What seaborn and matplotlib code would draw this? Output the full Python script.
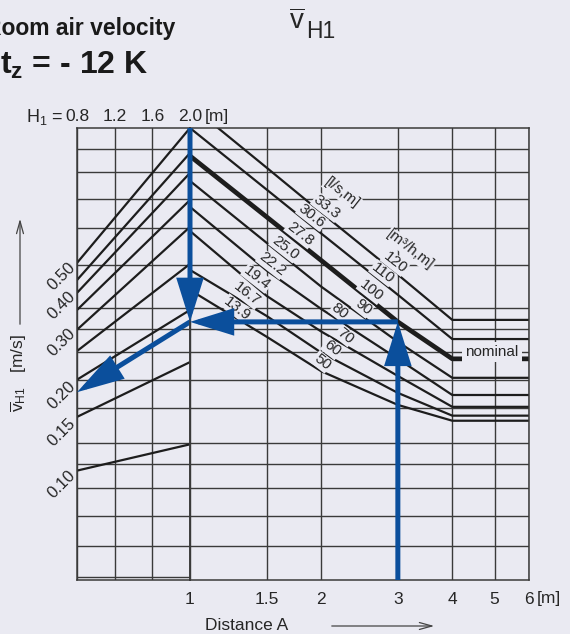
import numpy as np
import pandas as pd
import matplotlib
matplotlib.use("Agg")
import matplotlib.pyplot as plt
import seaborn as sns
from matplotlib.patches import FancyArrowPatch, ArrowStyle

# ---------------------------------------------------------------- data
H1_TICKS = [0.8, 1.2, 1.6, 2.0]                 # mounting height H1 [m]
A_TICKS = [1, 1.5, 2, 3, 4, 5, 6]               # distance A [m]
A_TICK_LABELS = ["1", "1.5", "2", "3", "4", "5", "6"]

V_LABELS = [0.10, 0.15, 0.20, 0.30, 0.40, 0.50]  # labelled velocities [m/s]
V_LABEL_TEXT = ["0.10", "0.15", "0.20", "0.30", "0.40", "0.50"]
V_GRID = [1.225, 1.026, 0.833, 0.666, 0.50, 0.359, 0.305, 0.255, 0.206,
          0.166, 0.126, 0.107, 0.089, 0.072, 0.057]
V_GRID_LEFT_EXTRA = [0.0449]

FLOW_LS = ["33.3", "30.6", "27.8", "25.0", "22.2", "19.4", "16.7", "13.9"]
FLOW_M3H = ["120", "110", "100", "90", "80", "70", "60", "50"]
NOMINAL = "100"

# velocity along each flow line at these distances
A_POINTS = [1, 1.5, 2, 3, 4, 6]
v_120 = [1.72, 1.06, 0.750, 0.464, 0.327, 0.327]
v_110 = [1.441, 0.895, 0.638, 0.397, 0.282, 0.282]
v_100 = [1.161, 0.7245, 0.518, 0.322, 0.242, 0.242]
v_90 = [0.957, 0.593, 0.423, 0.276, 0.209, 0.209]
v_80 = [0.783, 0.479, 0.356, 0.242, 0.183, 0.183]
v_70 = [0.650, 0.3935, 0.299, 0.212, 0.167, 0.167]
v_60 = [0.481, 0.337, 0.254, 0.186, 0.156, 0.156]
v_50 = [0.412, 0.287, 0.220, 0.1695, 0.150, 0.150]
FLOW_CURVES = [v_120, v_110, v_100, v_90, v_80, v_70, v_60, v_50]

# height correction guide lines: velocity at H1 = 0.8 m and at H1 = 2.0 m
GUIDE_V_08 = [0.508, 0.445, 0.403, 0.353, 0.303, 0.257, 0.206, 0.1545, 0.102]
GUIDE_V_20 = [1.441, 1.188, 1.018, 0.826, 0.671, 0.504, 0.353, 0.236, 0.125]

# worked example
A_EXAMPLE = 3.0
H1_EXAMPLE = 0.8
V_RESULT = 0.187

# ---------------------------------------------------------------- style
sns.set_theme(style="dark")
BG = "#EAEAF2"
INK = "#1d1d1d"
GRID = "#3a3a3a"
BLUE = "#0b4f9c"
TXT = "#262626"
plt.rcParams["font.family"] = ["Liberation Sans", "DejaVu Sans"]
plt.rcParams["mathtext.fontset"] = "custom"
plt.rcParams["mathtext.rm"] = "Liberation Sans"
plt.rcParams["mathtext.it"] = "Liberation Sans:italic"
plt.rcParams["mathtext.bf"] = "Liberation Sans:bold"
plt.rcParams["text.color"] = TXT

W, H = 570, 634
fx = lambda px: px / W
fy = lambda py: 1 - py / H

fig = plt.figure(figsize=(W / 100, H / 100), dpi=100, facecolor=BG)
ax_h = fig.add_axes([fx(77), fy(580), (190 - 77) / W, (580 - 128) / H], facecolor=BG)
ax_a = fig.add_axes([fx(190), fy(580), (529 - 190) / W, (580 - 128) / H],
                    facecolor=BG, sharey=ax_h)
ax_a.patch.set_visible(False)

ax_h.set_yscale("log")
ax_a.set_xscale("log")
ax_h.set_ylim(0.0438, 1.441)
ax_h.set_xlim(0.8, 2.0)
ax_a.set_xlim(1, 6)

# ticks and grid
ax_h.yaxis.remove_overlapping_locs = False
ax_h.set_yticks(V_GRID)
ax_h.set_yticklabels([""] * len(V_GRID))
ax_h.set_yticks(V_LABELS, minor=True)
ax_h.set_yticklabels(V_LABEL_TEXT, minor=True)
for lbl in ax_h.get_yticklabels(minor=True):
    lbl.set_rotation(45)
    lbl.set_rotation_mode("anchor")
    lbl.set_ha("right")
    lbl.set_va("center")
ax_h.tick_params(axis="y", which="both", length=0, pad=3, labelsize=12, colors=TXT)
ax_a.tick_params(axis="y", which="both", length=0, labelleft=False)

ax_h.xaxis.tick_top()
ax_h.set_xticks(H1_TICKS)
ax_h.set_xticklabels([f"{h:.1f}" for h in H1_TICKS])
ax_h.set_xticks([], minor=True)
ax_h.tick_params(axis="x", which="both", length=0, pad=3, labelsize=12.5, colors=TXT)

ax_a.set_xticks(A_TICKS)
ax_a.set_xticklabels(A_TICK_LABELS)
ax_a.set_xticks([], minor=True)
ax_a.tick_params(axis="x", which="both", length=0, pad=9, labelsize=12.5, colors=TXT)

for ax in (ax_h, ax_a):
    ax.set_axisbelow(True)
    ax.grid(True, which="major", color=GRID, lw=1.0)
    ax.grid(False, which="minor")
    for sp in ax.spines.values():
        sp.set_visible(True)
        sp.set_color(GRID)
        sp.set_linewidth(1.1)
for v in V_GRID_LEFT_EXTRA:
    ax_h.axhline(v, color=GRID, lw=1.0, zorder=0.6)

# ---------------------------------------------------------------- flow lines
rows = []
for name, curve in zip(FLOW_M3H, FLOW_CURVES):
    for a, v in zip(A_POINTS, curve):
        rows.append({"A": a, "v": v, "flow": name})
flow_df = pd.DataFrame(rows)
thin = flow_df[flow_df["flow"] != NOMINAL]
thick = flow_df[flow_df["flow"] == NOMINAL]
sns.lineplot(data=thin, x="A", y="v", units="flow", estimator=None, sort=False,
             color=INK, lw=1.6, ax=ax_a, legend=False, zorder=2)
sns.lineplot(data=thick, x="A", y="v", units="flow", estimator=None, sort=False,
             color=INK, lw=3.4, ax=ax_a, legend=False, zorder=2)

guide_rows = []
for i, (v0, v1) in enumerate(zip(GUIDE_V_08, GUIDE_V_20)):
    guide_rows.append({"H1": H1_TICKS[0], "v": v0, "g": i})
    guide_rows.append({"H1": H1_TICKS[-1], "v": v1, "g": i})
guide_df = pd.DataFrame(guide_rows)
sns.lineplot(data=guide_df, x="H1", y="v", units="g", estimator=None, sort=False,
             color=INK, lw=1.6, ax=ax_h, legend=False, zorder=2)
for ax in (ax_h, ax_a):
    ax.set_xlabel("")
    ax.set_ylabel("")


def v_on(curve, a):
    return 10 ** np.interp(np.log10(a), np.log10(A_POINTS), np.log10(curve))


label_box = dict(boxstyle="square,pad=0.05", fc=BG, ec="none")
LS_LABEL_A = [2.06, 1.905, 1.789, 1.652, 1.542, 1.425, 1.351, 1.282]
M3H_LABEL_A = [2.954, 2.773, 2.603, 2.495, 2.21, 2.27, 2.118, 2.01]
for curve, txt, a in zip(FLOW_CURVES, FLOW_LS, LS_LABEL_A):
    ax_a.annotate(txt, xy=(a, v_on(curve, a)), xytext=(0, 7), textcoords="offset points",
                  rotation=-38, ha="center", va="center", fontsize=11,
                  bbox=label_box, zorder=3)
for curve, txt, a in zip(FLOW_CURVES, FLOW_M3H, M3H_LABEL_A):
    ax_a.annotate(txt, xy=(a, v_on(curve, a)), xytext=(0, 7), textcoords="offset points",
                  rotation=-38, ha="center", va="center", fontsize=11,
                  bbox=label_box, zorder=3)
ax_a.annotate("[l/s,m]", xy=(2.234, v_on(v_120, 2.234)), xytext=(0, 26),
              textcoords="offset points", rotation=-38, ha="center", va="center",
              fontsize=11, bbox=label_box, zorder=3)
ax_a.annotate("[m³/h,m]", xy=(3.2, v_on(v_120, 3.2)), xytext=(0, 25),
              textcoords="offset points", rotation=-38, ha="center", va="center",
              fontsize=11, bbox=label_box, zorder=3)
ax_a.text(4.93, V_GRID[7], "nominal", ha="center", va="center", fontsize=11,
          bbox=dict(boxstyle="square,pad=0.2", fc=BG, ec="none"), zorder=3)

# ---------------------------------------------------------------- worked example
v_sel = v_on(v_100, A_EXAMPLE)
y_lo, y_hi = ax_h.get_ylim()


def blue_arrow(ax, tail, tip, head_length=2.4):
    style = ArrowStyle("-|>", head_length=head_length, head_width=0.75)
    arr = FancyArrowPatch(tail, tip, transform=ax.transData, arrowstyle=style,
                          mutation_scale=10, color=BLUE, lw=3.6, shrinkA=0, shrinkB=0,
                          joinstyle="miter", capstyle="butt", clip_on=False, zorder=5)
    ax.add_patch(arr)


blue_arrow(ax_a, (A_EXAMPLE, y_lo), (A_EXAMPLE, v_sel))
blue_arrow(ax_a, (A_EXAMPLE, v_sel), (A_TICKS[0], v_sel))
blue_arrow(ax_a, (A_TICKS[0], y_hi), (A_TICKS[0], v_sel))
blue_arrow(ax_h, (H1_TICKS[-1], v_sel), (H1_EXAMPLE, V_RESULT), head_length=2.6)

# ---------------------------------------------------------------- texts
fig.text(fx(175), fy(35), "Room air velocity", ha="right", va="baseline",
         fontsize=16.5, weight="bold", color="#1a1a1a")
fig.text(fx(148), fy(74), r"Δt$_{\mathbf{z}}$ = - 12 K", ha="right", va="baseline",
         fontsize=23, weight="bold", color="#1a1a1a")
fig.text(fx(289), fy(29), r"$\overline{\mathrm{v}}$", ha="left",
         va="baseline", fontsize=20)
fig.text(fx(306), fy(38), "H1", ha="left", va="baseline", fontsize=16.5)

fig.text(fx(63), fy(117), r"H$_1$ =", ha="right", va="center", fontsize=13)
fig.text(fx(205), fy(117), "[m]", ha="left", va="center", fontsize=12.5)
fig.text(fx(537), fy(598), "[m]", ha="left", va="center", fontsize=12.5)
fig.text(fx(205), fy(625), "Distance A", ha="left", va="center", fontsize=12.5)
fig.add_artist(FancyArrowPatch((fx(329), fy(626)), (fx(437), fy(626)),
                               transform=fig.transFigure,
                               arrowstyle=ArrowStyle("->", head_length=0.9, head_width=0.25),
                               mutation_scale=10, lw=0.9, color="#444444"))

fig.text(fx(19), fy(373), r"$\overline{\mathrm{v}}_{\mathrm{H1}}$   [m/s]", rotation=90,
         ha="center", va="center", fontsize=12.5)
fig.add_artist(FancyArrowPatch((fx(20), fy(327)), (fx(20), fy(216)),
                               transform=fig.transFigure,
                               arrowstyle=ArrowStyle("->", head_length=0.9, head_width=0.25),
                               mutation_scale=10, lw=0.9, color="#444444"))

fig.savefig("out.png", dpi=100, facecolor=BG)
